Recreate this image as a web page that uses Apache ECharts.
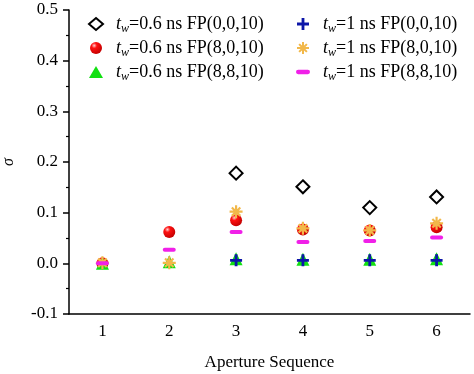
<!DOCTYPE html>
<html>
<head>
<meta charset="utf-8">
<script src="https://cdn.jsdelivr.net/npm/echarts@6/dist/echarts.min.js"></script>
<style>html,body{margin:0;padding:0;background:#fff}#c{width:474px;height:374px}</style>
</head>
<body>
<div id="c"></div>
<script>
var categories = ['1', '2', '3', '4', '5', '6'];
var yTicks = [-0.1, 0.0, 0.1, 0.2, 0.3, 0.4, 0.5];
var seriesNames = [
  'tw=0.6 ns FP(0,0,10)', 'tw=0.6 ns FP(8,0,10)', 'tw=0.6 ns FP(8,8,10)',
  'tw=1 ns FP(0,0,10)', 'tw=1 ns FP(8,0,10)', 'tw=1 ns FP(8,8,10)'
];
var legendLabels = [
  '=0.6 ns FP(0,0,10)', '=0.6 ns FP(8,0,10)', '=0.6 ns FP(8,8,10)',
  '=1 ns FP(0,0,10)', '=1 ns FP(8,0,10)', '=1 ns FP(8,8,10)'
];
var s06_000 = [null, null, 0.178, 0.151, 0.110, 0.131];
var s06_800 = [0.000, 0.062, 0.085, 0.067, 0.065, 0.071];
var s06_880 = [0.000, 0.003, 0.009, 0.008, 0.008, 0.009];
var s1_000  = [null, null, 0.006, 0.006, 0.006, 0.006];
var s1_800  = [0.001, 0.001, 0.102, 0.069, 0.065, 0.079];
var s1_880  = [0.000, 0.027, 0.062, 0.042, 0.044, 0.051];

var FONT = '"Liberation Serif", "Times New Roman", serif';
var plusPath = 'path://M4.6,0 H7.4 V4.6 H12 V7.4 H7.4 V12 H4.6 V7.4 H0 V4.6 H4.6 Z';
var starPath = 'path://M5,0 H7 V5 H12 V7 H7 V12 H5 V7 H0 V5 H5 Z ' +
  'M1.4,2.8 L2.8,1.4 L6,4.6 L9.2,1.4 L10.6,2.8 L7.4,6 L10.6,9.2 L9.2,10.6 L6,7.4 L2.8,10.6 L1.4,9.2 L4.6,6 Z';
var dashPath = 'path://M2,0 H11 A2,2 0 0 1 11,4 H2 A2,2 0 0 1 2,0 Z';

var sphere = {
  type: 'radial', x: 0.35, y: 0.3, r: 0.75,
  colorStops: [{offset: 0, color: '#ffd0d0'}, {offset: 0.3, color: '#ff1010'}, {offset: 1, color: '#c00000'}]
};

function pairs(arr) {
  var out = [];
  arr.forEach(function (v, i) { if (v !== null) out.push([categories[i], v]); });
  return out;
}

var series = [
  {name: seriesNames[0], data: pairs(s06_000), symbol: 'diamond', symbolSize: 13,
   itemStyle: {color: '#ffffff', borderColor: '#000000', borderWidth: 2}, z: 2},
  {name: seriesNames[1], data: pairs(s06_800), symbol: 'circle', symbolSize: 12,
   itemStyle: {color: sphere}, z: 3},
  {name: seriesNames[2], data: pairs(s06_880), symbol: 'triangle', symbolSize: 13,
   itemStyle: {color: '#12e012'}, z: 4},
  {name: seriesNames[3], data: pairs(s1_000), symbol: plusPath, symbolSize: 12,
   itemStyle: {color: '#0c16a8'}, z: 5},
  {name: seriesNames[4], data: pairs(s1_800), symbol: starPath, symbolSize: 13,
   itemStyle: {color: '#f2b84a'}, z: 6},
  {name: seriesNames[5], data: pairs(s1_880), symbol: dashPath, symbolSize: [13, 4],
   itemStyle: {color: '#f020e8'}, z: 7}
].map(function (s) {
  s.type = 'scatter';
  s.itemStyle.opacity = 1;
  s.emphasis = {disabled: true};
  return s;
});

var legendIcons = ['diamond', 'circle', 'triangle', plusPath, starPath, dashPath];
var rich = {
  g: {width: 8},
  t: {fontFamily: FONT, fontStyle: 'italic', fontSize: 18, color: '#000'},
  w: {fontFamily: FONT, fontStyle: 'italic', fontSize: 12, color: '#000', padding: [10, 0, 0, 0]},
  n: {fontFamily: FONT, fontSize: 18, color: '#000'}
};
function legendFmt(name) {
  var i = seriesNames.indexOf(name);
  return '{g|}{t|t}{w|w}{n|' + legendLabels[i] + '}';
}
function mkLegend(idx, left) {
  return {
    orient: 'vertical', left: left, top: 15, padding: 0, itemWidth: 14, itemHeight: 12, itemGap: 4,
    selectedMode: false, symbolKeepAspect: true,
    data: idx.map(function (i) { return {name: seriesNames[i], icon: legendIcons[i]}; }),
    formatter: legendFmt,
    textStyle: {rich: rich, fontFamily: FONT, fontSize: 18, color: '#000'}
  };
}

var chart = echarts.init(document.getElementById('c'), null, {renderer: 'canvas'});
chart.setOption({
  animation: false,
  backgroundColor: '#ffffff',
  grid: {left: 69, right: 4, top: 10, bottom: 60, containLabel: false, outerBoundsMode: 'none'},
  legend: [mkLegend([0, 1, 2], 88), mkLegend([3, 4, 5], 296)],
  xAxis: {
    type: 'category', data: categories, boundaryGap: true,
    name: 'Aperture Sequence', nameLocation: 'middle', nameGap: 40,
    nameTextStyle: {fontFamily: FONT, fontSize: 17, color: '#000'},
    axisLine: {onZero: false, lineStyle: {color: '#000', width: 1.5}},
    axisTick: {alignWithLabel: true, length: 5, lineStyle: {color: '#000', width: 1.5}},
    axisLabel: {fontFamily: FONT, fontSize: 17, color: '#000', margin: 9},
    splitLine: {show: false}
  },
  yAxis: {
    type: 'value', min: yTicks[0], max: yTicks[yTicks.length - 1], interval: 0.1,
    name: 'σ', nameLocation: 'middle', nameGap: 52, nameRotate: 90,
    nameTextStyle: {fontFamily: FONT, fontStyle: 'italic', fontSize: 16, color: '#000'},
    axisLine: {show: true, lineStyle: {color: '#000', width: 1.5}},
    axisTick: {show: true, inside: false, length: 6, lineStyle: {color: '#000', width: 1.5}},
    minorTick: {show: true, splitNumber: 2, length: 3, lineStyle: {color: '#000', width: 1.2}},
    axisLabel: {fontFamily: FONT, fontSize: 17, color: '#000', margin: 11,
      formatter: function (v) { return v.toFixed(1); }},
    splitLine: {show: false}
  },
  series: series
});
</script>
</body>
</html>
